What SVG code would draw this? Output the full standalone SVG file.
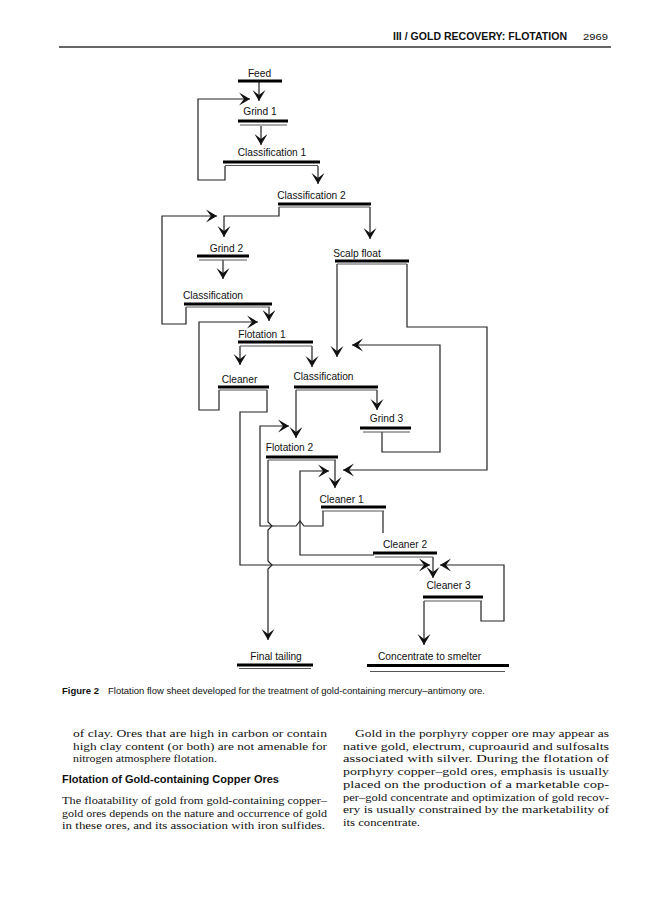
<svg xmlns="http://www.w3.org/2000/svg" width="668" height="900" viewBox="0 0 668 900">
<style>
.lbl{font-family:"Liberation Sans",Arial,sans-serif;font-size:10.2px;fill:#111;text-anchor:middle}
.bar{stroke:#000;stroke-width:3}
.sub{stroke:#555;stroke-width:1}
.c{fill:none;stroke:#222;stroke-width:1.2}
.a{marker-end:url(#ah)}
.body{font-family:"Liberation Serif","Times New Roman",serif;font-size:11.2px;fill:#111}
.hd{font-family:"Liberation Sans",Arial,sans-serif;font-weight:bold;fill:#111}
.cap{font-family:"Liberation Sans",Arial,sans-serif;font-size:9.5px;fill:#111}
</style>
<defs>
<marker id="ah" viewBox="-12 -7 13 14" refX="0" refY="0" markerWidth="13" markerHeight="14" markerUnits="userSpaceOnUse" orient="auto">
<path d="M0,0 L-11,-6.5 L-6,0 L-11,6.5 Z" fill="#111"/>
</marker>
</defs>
<rect width="668" height="900" fill="#fff"/>

<g id="header">
<text class="hd" x="393" y="40" font-size="10" textLength="174" lengthAdjust="spacingAndGlyphs">III / GOLD RECOVERY: FLOTATION</text>
<text class="cap" x="583" y="40" font-size="10.5" textLength="25" lengthAdjust="spacingAndGlyphs">2969</text>
<line x1="59" y1="47" x2="611" y2="47" stroke="#333" stroke-width="1.3"/>
</g>

<g id="connectors">
<path class="c a" d="M259,82 V101"/>
<path class="c a" d="M261,126 V145"/>
<path class="c a" d="M225,166 V180 H198 V99 H250"/>
<path class="c a" d="M318,166 V184"/>
<path class="c a" d="M279,207 V216 H224 V237"/>
<path class="c a" d="M370,207 V239"/>
<path class="c a" d="M186,307 V324 H162 V216 H217"/>
<path class="c a" d="M223,260 V279"/>
<path class="c a" d="M269,307 V321"/>
<path class="c a" d="M219,390 V410 H199 V322 H258"/>
<path class="c a" d="M337,264 V357"/>
<path class="c a" d="M407,264 V327 H487 V470 H343"/>
<path class="c a" d="M240,346 V365"/>
<path class="c a" d="M312,346 V367"/>
<path class="c a" d="M382,432 V452 H440 V345 H352"/>
<path class="c a" d="M296,390 V438"/>
<path class="c a" d="M377,390 V410"/>
<path class="c a" d="M267,390 V412 H240 V565 H430"/>
<path class="c a" d="M268,460 V522 L272,526 L268,530 V561 L272,565 L268,569 V640"/>
<path class="c a" d="M335,460 V488"/>
<path class="c a" d="M323,511 V526 H304 L300,521 L296,526 H260 V426 H289"/>
<path class="c a" d="M374,555 H300 V471 H329"/>
<path class="c" d="M383,511 V533"/>
<path class="c a" d="M433,557 V578"/>
<path class="c a" d="M481,601 V621 H504 V565 H440"/>
<path class="c a" d="M424,601 V645"/>
</g>

<g id="feed"><text class="lbl" x="259.5" y="77">Feed</text><line class="bar" x1="238" y1="81" x2="282" y2="81"/></g>
<g id="grind1"><text class="lbl" x="260" y="115">Grind 1</text><line class="bar" x1="238" y1="121" x2="288" y2="121"/><line class="sub" x1="240" y1="125" x2="287" y2="125"/></g>
<g id="classification1"><text class="lbl" x="272" y="156">Classification 1</text><line class="bar" x1="223" y1="162" x2="320" y2="162"/><line class="sub" x1="225" y1="165.5" x2="318" y2="165.5"/></g>
<g id="classification2"><text class="lbl" x="311.5" y="199">Classification 2</text><line class="bar" x1="278" y1="204" x2="371" y2="204"/><line class="sub" x1="279" y1="207" x2="370" y2="207"/></g>
<g id="grind2"><text class="lbl" x="226.5" y="252">Grind 2</text><line class="bar" x1="197" y1="256" x2="249" y2="256"/><line class="sub" x1="199" y1="260" x2="247" y2="260"/></g>
<g id="scalpfloat"><text class="lbl" x="357" y="257">Scalp float</text><line class="bar" x1="335" y1="261" x2="409" y2="261"/><line class="sub" x1="337" y1="264" x2="407" y2="264"/></g>
<g id="classification3"><text class="lbl" x="213" y="299">Classification</text><line class="bar" x1="184" y1="304" x2="272" y2="304"/><line class="sub" x1="186" y1="307" x2="270" y2="307"/></g>
<g id="flotation1"><text class="lbl" x="262" y="338">Flotation 1</text><line class="bar" x1="238" y1="342" x2="313" y2="342"/><line class="sub" x1="240" y1="346" x2="312" y2="346"/></g>
<g id="cleaner"><text class="lbl" x="239.5" y="383">Cleaner</text><line class="bar" x1="218" y1="387" x2="269" y2="387"/><line class="sub" x1="219" y1="390" x2="267" y2="390"/></g>
<g id="classification4"><text class="lbl" x="323.5" y="380">Classification</text><line class="bar" x1="294" y1="387" x2="378" y2="387"/><line class="sub" x1="296" y1="390" x2="377" y2="390"/></g>
<g id="grind3"><text class="lbl" x="386.5" y="422">Grind 3</text><line class="bar" x1="360" y1="428" x2="411" y2="428"/><line class="sub" x1="363" y1="432" x2="410" y2="432"/></g>
<g id="flotation2"><text class="lbl" x="289.5" y="451">Flotation 2</text><line class="bar" x1="266" y1="457" x2="338" y2="457"/><line class="sub" x1="268" y1="460" x2="336" y2="460"/></g>
<g id="cleaner1"><text class="lbl" x="341.5" y="503">Cleaner 1</text><line class="bar" x1="321" y1="507" x2="386" y2="507"/><line class="sub" x1="322" y1="511" x2="384" y2="511"/></g>
<g id="cleaner2"><text class="lbl" x="405" y="548">Cleaner 2</text><line class="bar" x1="373" y1="553" x2="437" y2="553"/><line class="sub" x1="375" y1="557" x2="433" y2="557"/></g>
<g id="cleaner3"><text class="lbl" x="448.5" y="589">Cleaner 3</text><line class="bar" x1="423" y1="597" x2="483" y2="597"/><line class="sub" x1="424" y1="601" x2="482" y2="601"/></g>
<g id="finaltailing"><text class="lbl" x="276" y="660">Final tailing</text><line class="bar" x1="237" y1="665" x2="313" y2="665"/><line class="sub" x1="239" y1="668.5" x2="311" y2="668.5"/></g>
<g id="concentrate"><text class="lbl" x="429.5" y="660">Concentrate to smelter</text><line class="bar" x1="367" y1="665.5" x2="509" y2="665.5" stroke-width="4.5"/><line class="sub" x1="370" y1="671.5" x2="505" y2="671.5"/></g>

<g id="caption">
<text class="cap" x="62" y="694" font-weight="bold">Figure 2</text>
<text class="cap" x="108" y="694" textLength="377" lengthAdjust="spacingAndGlyphs">Flotation flow sheet developed for the treatment of gold-containing mercury–antimony ore.</text>
</g>

<g id="text-left">
<text class="body" x="73" y="737" textLength="254" lengthAdjust="spacingAndGlyphs">of clay. Ores that are high in carbon or contain</text>
<text class="body" x="73" y="749.7" textLength="254" lengthAdjust="spacingAndGlyphs">high clay content (or both) are not amenable for</text>
<text class="body" x="73" y="762.4" textLength="144" lengthAdjust="spacingAndGlyphs">nitrogen atmosphere flotation.</text>
<text class="hd" x="62" y="783" font-size="10.5" textLength="217" lengthAdjust="spacingAndGlyphs">Flotation of Gold-containing Copper Ores</text>
<text class="body" x="62" y="804" textLength="265" lengthAdjust="spacingAndGlyphs">The floatability of gold from gold-containing copper–</text>
<text class="body" x="62" y="816.7" textLength="265" lengthAdjust="spacingAndGlyphs">gold ores depends on the nature and occurrence of gold</text>
<text class="body" x="62" y="829.4" textLength="263" lengthAdjust="spacingAndGlyphs">in these ores, and its association with iron sulfides.</text>
</g>

<g id="text-right">
<text class="body" x="355" y="737" textLength="254" lengthAdjust="spacingAndGlyphs">Gold in the porphyry copper ore may appear as</text>
<text class="body" x="343" y="749.7" textLength="266" lengthAdjust="spacingAndGlyphs">native gold, electrum, cuproaurid and sulfosalts</text>
<text class="body" x="343" y="762.4" textLength="266" lengthAdjust="spacingAndGlyphs">associated with silver. During the flotation of</text>
<text class="body" x="343" y="775.1" textLength="266" lengthAdjust="spacingAndGlyphs">porphyry copper–gold ores, emphasis is usually</text>
<text class="body" x="343" y="787.8" textLength="266" lengthAdjust="spacingAndGlyphs">placed on the production of a marketable cop-</text>
<text class="body" x="343" y="800.5" textLength="266" lengthAdjust="spacingAndGlyphs">per–gold concentrate and optimization of gold recov-</text>
<text class="body" x="343" y="813.2" textLength="266" lengthAdjust="spacingAndGlyphs">ery is usually constrained by the marketability of</text>
<text class="body" x="343" y="825.9" textLength="77" lengthAdjust="spacingAndGlyphs">its concentrate.</text>
</g>
</svg>
